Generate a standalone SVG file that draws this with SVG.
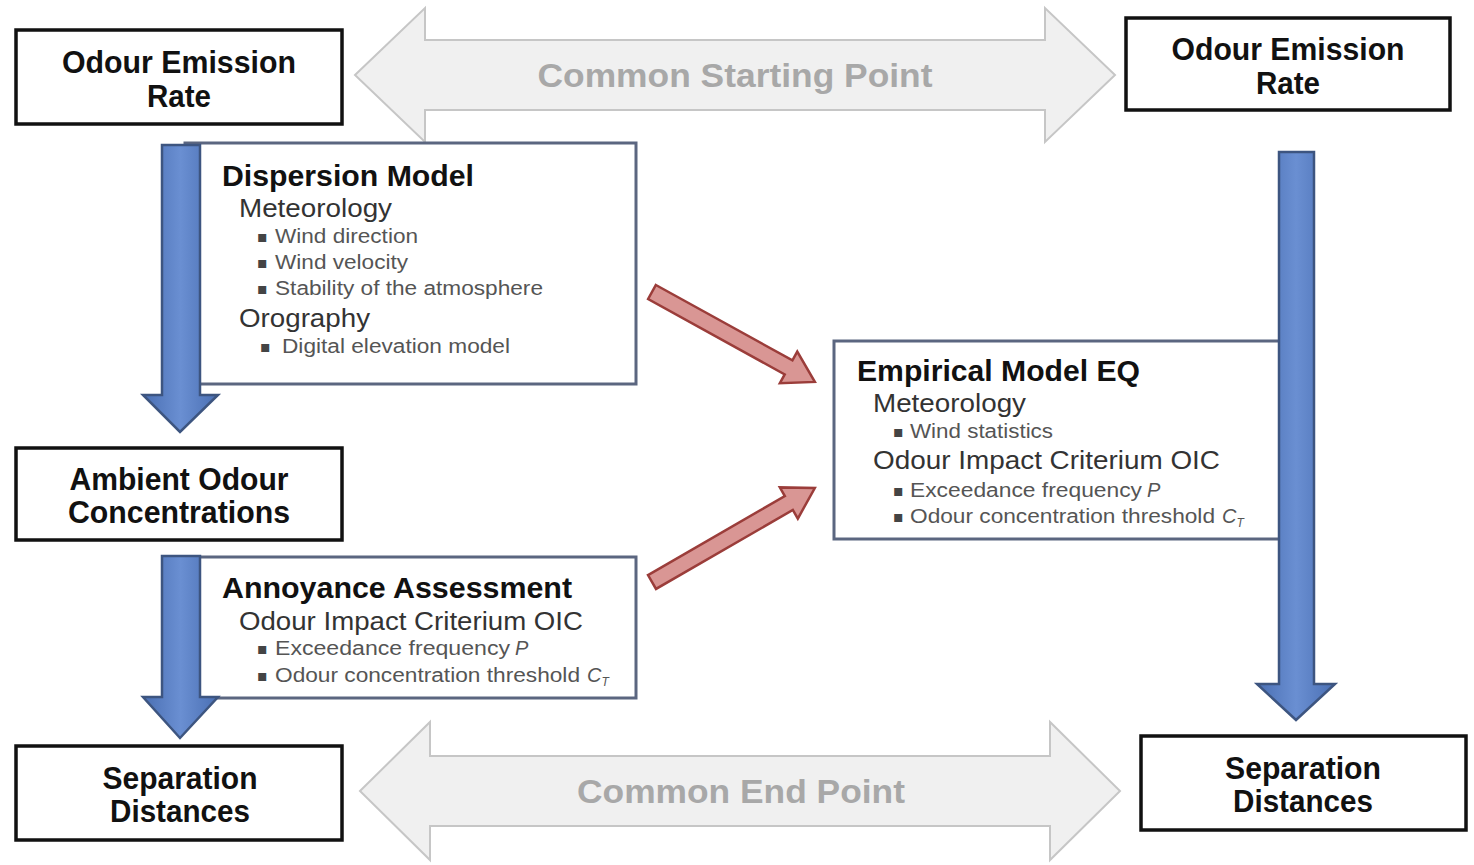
<svg xmlns="http://www.w3.org/2000/svg" width="1474" height="865" viewBox="0 0 1474 865">
<style>
.main{fill:#fff;stroke:#111;stroke-width:3.5}
.info{fill:#fff;stroke:#5b6680;stroke-width:3}
.big{fill:#f0f0f0;stroke:#c6c6c6;stroke-width:2}
.blue{fill:url(#bg);stroke:#3d5580;stroke-width:2.5}
.red{fill:#d99694;stroke:#9b3d3a;stroke-width:2.5}
text{font-family:"Liberation Sans",Arial,sans-serif}
.t{font-size:32px;font-weight:bold;fill:#111;text-anchor:middle}
.g{font-size:34px;font-weight:bold;fill:#a8a8a8;text-anchor:middle}
.h{font-size:29px;font-weight:bold;fill:#111}
.s{font-size:26px;fill:#333}
.b{font-size:20px;fill:#555}
.bl{font-size:16px;fill:#444;font-family:"DejaVu Sans",sans-serif}
.it{font-size:20px;fill:#555;font-style:italic}
.sub{font-size:12px;fill:#555;font-style:italic}
</style>
<defs>
<linearGradient id="bg" x1="0" y1="0" x2="1" y2="0">
<stop offset="0" stop-color="#4a6fb3"/>
<stop offset="0.5" stop-color="#6a8fd2"/>
<stop offset="1" stop-color="#4a6fb3"/>
</linearGradient>
</defs>

<g id="common-start">
<path class="big" d="M355,75 L425,8 V40 H1045 V8 L1115,75 L1045,142 V110 H425 V142 Z"/>
<text class="g" x="735" y="87" textLength="395" lengthAdjust="spacingAndGlyphs">Common Starting Point</text>
</g>
<g id="common-end">
<path class="big" d="M360,791 L430,722 V756 H1050 V722 L1120,791 L1050,860 V826 H430 V860 Z"/>
<text class="g" x="741" y="803" textLength="328" lengthAdjust="spacingAndGlyphs">Common End Point</text>
</g>

<g id="oer-left">
<rect class="main" x="16" y="30" width="326" height="94"/>
<text class="t" x="179" y="73" textLength="234" lengthAdjust="spacingAndGlyphs">Odour Emission</text>
<text class="t" x="179" y="107" textLength="64" lengthAdjust="spacingAndGlyphs">Rate</text>
</g>
<g id="oer-right">
<rect class="main" x="1126" y="18" width="324" height="92"/>
<text class="t" x="1288" y="60" textLength="233" lengthAdjust="spacingAndGlyphs">Odour Emission</text>
<text class="t" x="1288" y="94" textLength="64" lengthAdjust="spacingAndGlyphs">Rate</text>
</g>

<g id="dispersion">
<rect class="info" x="185" y="143" width="451" height="241"/>
<text class="h" x="222" y="186" textLength="252" lengthAdjust="spacingAndGlyphs">Dispersion Model</text>
<text class="s" x="239" y="217" textLength="153" lengthAdjust="spacingAndGlyphs">Meteorology</text>
<text class="bl" x="257" y="242">▪</text>
<text class="b" x="275" y="243" textLength="143" lengthAdjust="spacingAndGlyphs">Wind direction</text>
<text class="bl" x="257" y="268">▪</text>
<text class="b" x="275" y="269" textLength="133" lengthAdjust="spacingAndGlyphs">Wind velocity</text>
<text class="bl" x="257" y="294">▪</text>
<text class="b" x="275" y="295" textLength="268" lengthAdjust="spacingAndGlyphs">Stability of the atmosphere</text>
<text class="s" x="239" y="327" textLength="131" lengthAdjust="spacingAndGlyphs">Orography</text>
<text class="bl" x="260" y="352">▪</text>
<text class="b" x="282" y="353" textLength="228" lengthAdjust="spacingAndGlyphs">Digital elevation model</text>
</g>

<g id="ambient">
<rect class="main" x="16" y="448" width="326" height="92"/>
<text class="t" x="179" y="490" textLength="219" lengthAdjust="spacingAndGlyphs">Ambient Odour</text>
<text class="t" x="179" y="523" textLength="222" lengthAdjust="spacingAndGlyphs">Concentrations</text>
</g>

<g id="annoyance">
<rect class="info" x="185" y="557" width="451" height="141"/>
<text class="h" x="222" y="598" textLength="350" lengthAdjust="spacingAndGlyphs">Annoyance Assessment</text>
<text class="s" x="239" y="630" textLength="344" lengthAdjust="spacingAndGlyphs">Odour Impact Criterium OIC</text>
<text class="bl" x="257" y="654">▪</text>
<text class="b" x="275" y="655" textLength="235" lengthAdjust="spacingAndGlyphs">Exceedance frequency</text>
<text class="it" x="515" y="655">P</text>
<text class="bl" x="257" y="681">▪</text>
<text class="b" x="275" y="682" textLength="305" lengthAdjust="spacingAndGlyphs">Odour concentration threshold</text>
<text class="it" x="587" y="682">C<tspan class="sub" dy="4">T</tspan></text>
</g>

<g id="sep-left">
<rect class="main" x="16" y="746" width="326" height="94"/>
<text class="t" x="180" y="789" textLength="155" lengthAdjust="spacingAndGlyphs">Separation</text>
<text class="t" x="180" y="822" textLength="140" lengthAdjust="spacingAndGlyphs">Distances</text>
</g>
<g id="sep-right">
<rect class="main" x="1141" y="736" width="325" height="94"/>
<text class="t" x="1303" y="779" textLength="156" lengthAdjust="spacingAndGlyphs">Separation</text>
<text class="t" x="1303" y="812" textLength="140" lengthAdjust="spacingAndGlyphs">Distances</text>
</g>

<g id="empirical">
<rect class="info" x="834" y="341" width="460" height="198"/>
<text class="h" x="857" y="381" textLength="283" lengthAdjust="spacingAndGlyphs">Empirical Model EQ</text>
<text class="s" x="873" y="412" textLength="153" lengthAdjust="spacingAndGlyphs">Meteorology</text>
<text class="bl" x="893" y="437">▪</text>
<text class="b" x="910" y="438" textLength="143" lengthAdjust="spacingAndGlyphs">Wind statistics</text>
<text class="s" x="873" y="469" textLength="347" lengthAdjust="spacingAndGlyphs">Odour Impact Criterium OIC</text>
<text class="bl" x="893" y="496">▪</text>
<text class="b" x="910" y="497" textLength="232" lengthAdjust="spacingAndGlyphs">Exceedance frequency</text>
<text class="it" x="1147" y="497">P</text>
<text class="bl" x="893" y="522">▪</text>
<text class="b" x="910" y="523" textLength="305" lengthAdjust="spacingAndGlyphs">Odour concentration threshold</text>
<text class="it" x="1222" y="523">C<tspan class="sub" dy="4">T</tspan></text>
</g>

<g id="connectors">
<path class="blue" d="M162,145 H200 V395 H218 L180,432 L143,395 H162 Z"/>
<path class="blue" d="M162,556 H200 V697 H218 L180,738 L143,697 H162 Z"/>
<path class="blue" d="M1279,152 H1314 V684 H1335 L1296,720 L1257,684 H1279 Z"/>
<path class="red" transform="translate(652,292) rotate(28.9)" d="M0,-8 H156 V-18 L186,0 L156,18 V8 H0 Z"/>
<path class="red" transform="translate(652,582) rotate(-30)" d="M0,-8 H158 V-18 L188,0 L158,18 V8 H0 Z"/>
</g>
</svg>
